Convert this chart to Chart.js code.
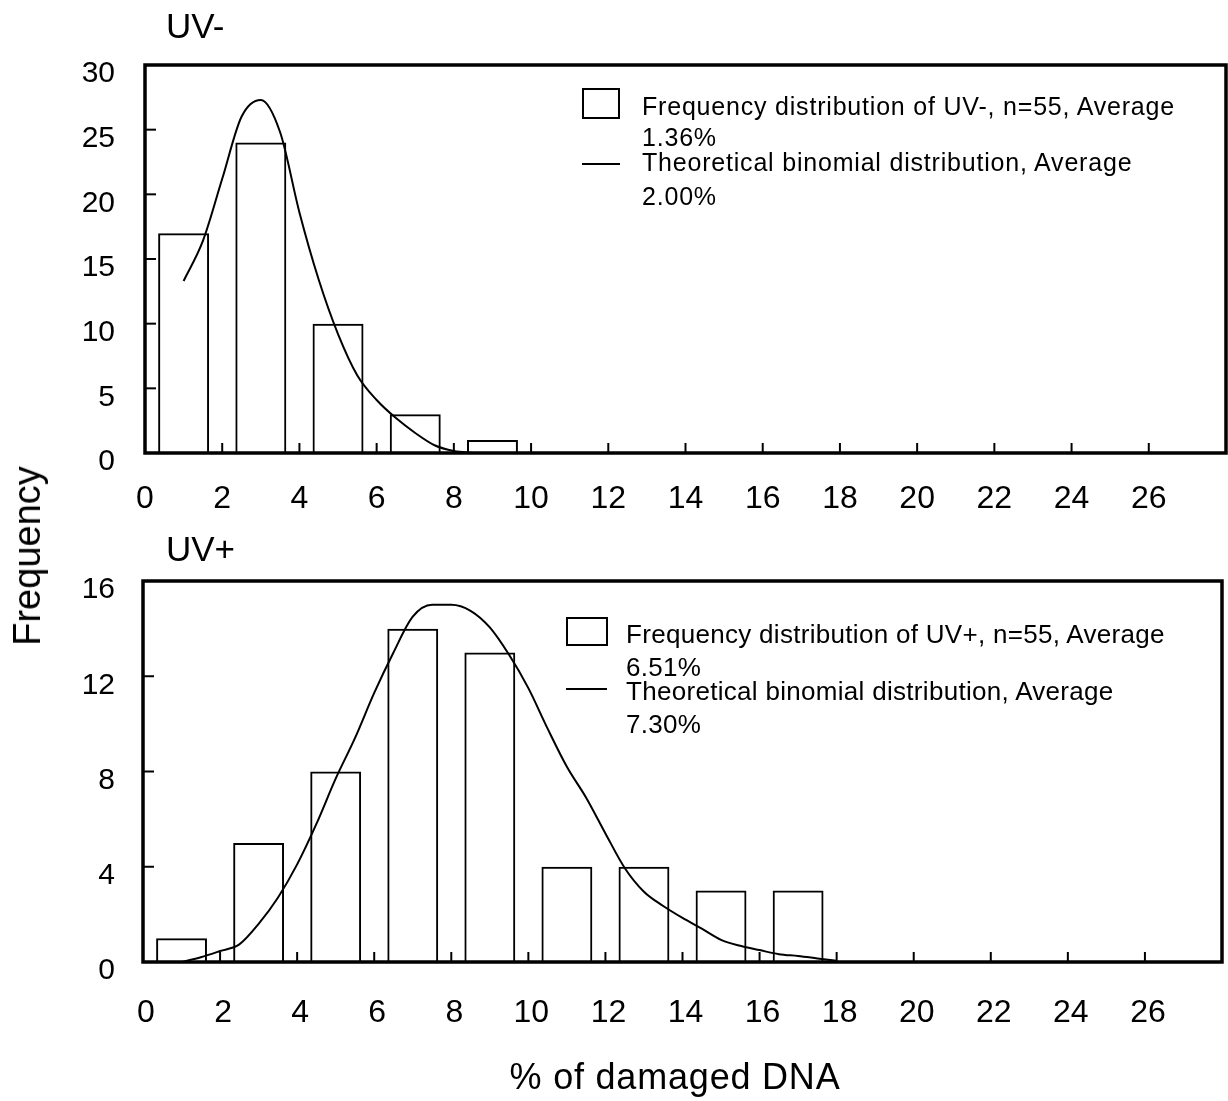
<html>
  <head>
    <title>Frequency of damaged DNA, UV- / UV+</title>
    <script src="https://cdn.jsdelivr.net/npm/chart.js@4.4.1/dist/chart.umd.min.js"></script>
    <style>
      body { margin: 0; background: #fff; }
      #page { position: relative; width: 1228px; height: 1101px; overflow: hidden;
              font-family: 'Liberation Sans', Arial, sans-serif; color: #000; }
      #page canvas { position: absolute; left: 0; }
      .txt { position: absolute; line-height: 1; white-space: nowrap; }
      .legbox { position: absolute; border: 2px solid #000; box-sizing: border-box; }
      .legline { position: absolute; height: 2px; background: #000; }
    </style>
  </head>
  <body>
    <div id="page">
      <canvas id="chartMinus" width="1228" height="520" style="top:0"></canvas>
      <canvas id="chartPlus" width="1228" height="581" style="top:520px"></canvas>

      <!-- panel titles -->
      <div class="txt" style="left:166px; top:8px; font-size:35px;">UV-</div>
      <div class="txt" style="left:166px; top:531px; font-size:35px;">UV+</div>

      <!-- legend UV- -->
      <div class="legbox" style="left:582px; top:88px; width:38px; height:31px;"></div>
      <div class="legline" style="left:582px; top:163px; width:38px;"></div>
      <div class="txt" style="left:642px; top:94px; font-size:25px; letter-spacing:0.8px;">Frequency distribution of UV-, n=55, Average</div>
      <div class="txt" style="left:642px; top:125px; font-size:25px; letter-spacing:0.8px;">1.36%</div>
      <div class="txt" style="left:642px; top:150px; font-size:25px; letter-spacing:0.8px;">Theoretical binomial distribution, Average</div>
      <div class="txt" style="left:642px; top:184px; font-size:25px; letter-spacing:0.8px;">2.00%</div>

      <!-- legend UV+ -->
      <div class="legbox" style="left:566px; top:617px; width:42px; height:29px;"></div>
      <div class="legline" style="left:566px; top:688px; width:41px;"></div>
      <div class="txt" style="left:626px; top:621px; font-size:26px; letter-spacing:0.3px;">Frequency distribution of UV+, n=55, Average</div>
      <div class="txt" style="left:626px; top:654px; font-size:26px; letter-spacing:0.3px;">6.51%</div>
      <div class="txt" style="left:626px; top:678px; font-size:26px; letter-spacing:0.3px;">Theoretical binomial distribution, Average</div>
      <div class="txt" style="left:626px; top:711px; font-size:26px; letter-spacing:0.3px;">7.30%</div>

      <!-- axis titles -->
      <div class="txt" style="left:27px; top:556px; font-size:38px; transform:translate(-50%,-50%) rotate(-90deg);">Frequency</div>
      <div class="txt" style="left:675px; top:1059px; font-size:36px; letter-spacing:0.8px; transform:translateX(-50%);">% of damaged DNA</div>
    </div>

    <script>
      // bins are 2% wide, bars sit on the bin centres
      var binCenters = [1, 3, 5, 7, 9, 11, 13, 15, 17];
      var uvMinusCounts = [17, 24, 10, 3, 1];
      var uvPlusCounts = [1, 5, 8, 14, 13, 4, 4, 3, 3];

      // theoretical binomial curves
      var uvMinusCurveX = [1, 1.5, 2, 2.5, 3, 3.5, 4, 4.5, 5, 5.5, 6, 6.5, 7, 7.5, 8, 8.5];
      var uvMinusCurveY = [13.3, 16.4, 21.2, 26.0, 27.3, 24.8, 18.6, 13.4, 9.2, 6.0, 4.1, 2.7, 1.55, 0.6, 0.15, 0];

      var uvPlusCurveX = [1, 1.5, 2, 2.5, 3, 3.5, 4, 4.5, 5, 5.5, 6, 6.5, 7, 7.5, 8, 8.5, 9, 9.5,
                          10, 10.5, 11, 11.5, 12, 12.5, 13, 13.5, 14, 14.5, 15, 15.5, 16, 16.5, 17, 17.5, 18];
      var uvPlusCurveY = [0, 0.2, 0.46, 0.74, 1.6, 2.7, 4.1, 5.8, 7.7, 9.4, 11.3, 13.0, 14.5, 15.0, 15.0, 14.75, 14.05, 12.9,
                          11.5, 9.8, 8.2, 6.9, 5.4, 3.95, 2.95, 2.35, 1.85, 1.4, 0.93, 0.68, 0.5, 0.33, 0.25, 0.15, 0.05];

      var xTickValues = [0, 2, 4, 6, 8, 10, 12, 14, 16, 18, 20, 22, 24, 26];
      var uvMinusYTicks = [0, 5, 10, 15, 20, 25, 30];
      var uvPlusYTicks = [0, 4, 8, 12, 16];

      Chart.defaults.font.family = "'Liberation Sans', Arial, sans-serif";
      Chart.defaults.color = '#000';

      function pairs(xs, ys) {
        return ys.map(function (v, i) { return { x: xs[i], y: v }; });
      }

      // thick frame round the plot plus short inward tick marks
      var framePlugin = {
        id: 'frame',
        afterDatasetsDraw: function (chart) {
          var ctx = chart.ctx, a = chart.chartArea;
          var xs = chart.scales.x, ys = chart.scales.y;
          ctx.save();
          ctx.strokeStyle = '#000';
          ctx.lineWidth = 2;
          xs.ticks.forEach(function (t) {
            if (t.value <= xs.min || t.value >= xs.max) return;
            var px = xs.getPixelForValue(t.value);
            ctx.beginPath(); ctx.moveTo(px, a.bottom); ctx.lineTo(px, a.bottom - 10); ctx.stroke();
          });
          ys.ticks.forEach(function (t) {
            if (t.value <= ys.min || t.value >= ys.max) return;
            var py = ys.getPixelForValue(t.value);
            ctx.beginPath(); ctx.moveTo(a.left, py); ctx.lineTo(a.left + 11, py); ctx.stroke();
          });
          ctx.lineWidth = 3.5;
          ctx.strokeRect(a.left, a.top, a.right - a.left, a.bottom - a.top);
          ctx.restore();
        }
      };

      // the gap between axis and labels comes from an invisible tick mark,
      // so tick padding does not eat into the plot width
      function hiddenGrid(len) {
        return { display: true, drawOnChartArea: false, drawTicks: true, tickLength: len, color: 'rgba(0,0,0,0)' };
      }

      function makeChart(id, o) {
        return new Chart(document.getElementById(id), {
          type: 'bar',
          data: {
            datasets: [
              {
                type: 'line',
                data: pairs(o.curveX, o.curveY),
                borderColor: '#000',
                borderWidth: 2,
                pointRadius: 0,
                cubicInterpolationMode: 'monotone',
                fill: false,
                order: 0
              },
              {
                type: 'bar',
                data: pairs(binCenters, o.counts),
                borderColor: '#000',
                borderWidth: 2,
                backgroundColor: 'rgba(255,255,255,0)',
                barPercentage: 0.66,
                categoryPercentage: 1,
                order: 1
              }
            ]
          },
          options: {
            responsive: false,
            animation: false,
            layout: { padding: { left: 0, bottom: 0, top: o.top, right: o.right } },
            plugins: { legend: { display: false }, tooltip: { enabled: false } },
            scales: {
              x: {
                type: 'linear', min: 0, max: 28, offset: false,
                grid: hiddenGrid(o.xPad),
                border: { display: false },
                afterBuildTicks: function (s) {
                  s.ticks = xTickValues.concat([28]).map(function (v) { return { value: v }; });
                },
                ticks: {
                  autoSkip: false, maxRotation: 0,
                  padding: 0, labelOffset: o.xOff,
                  font: { size: 32 },
                  callback: function (v) { return v >= 28 ? '' : v; }
                },
                afterFit: function (s) { s.height = o.xHeight; }
              },
              y: {
                min: 0, max: o.yTicks[o.yTicks.length - 1],
                grid: hiddenGrid(o.yPad),
                border: { display: false },
                afterBuildTicks: function (s) {
                  s.ticks = o.yTicks.map(function (v) { return { value: v }; });
                },
                ticks: { padding: 0, labelOffset: 9, font: { size: 30 } },
                afterFit: function (s) { s.width = o.yWidth; }
              }
            }
          },
          plugins: [framePlugin]
        });
      }

      makeChart('chartMinus', {
        curveX: uvMinusCurveX, curveY: uvMinusCurveY, counts: uvMinusCounts,
        yTicks: uvMinusYTicks,
        top: 65, right: 2, yWidth: 145, xHeight: 67, xPad: 27, xOff: 0, yPad: 30
      });

      makeChart('chartPlus', {
        curveX: uvPlusCurveX, curveY: uvPlusCurveY, counts: uvPlusCounts,
        yTicks: uvPlusYTicks,
        top: 61, right: 6, yWidth: 143, xHeight: 139, xPad: 32, xOff: 3, yPad: 28
      });
    </script>
  </body>
</html>
